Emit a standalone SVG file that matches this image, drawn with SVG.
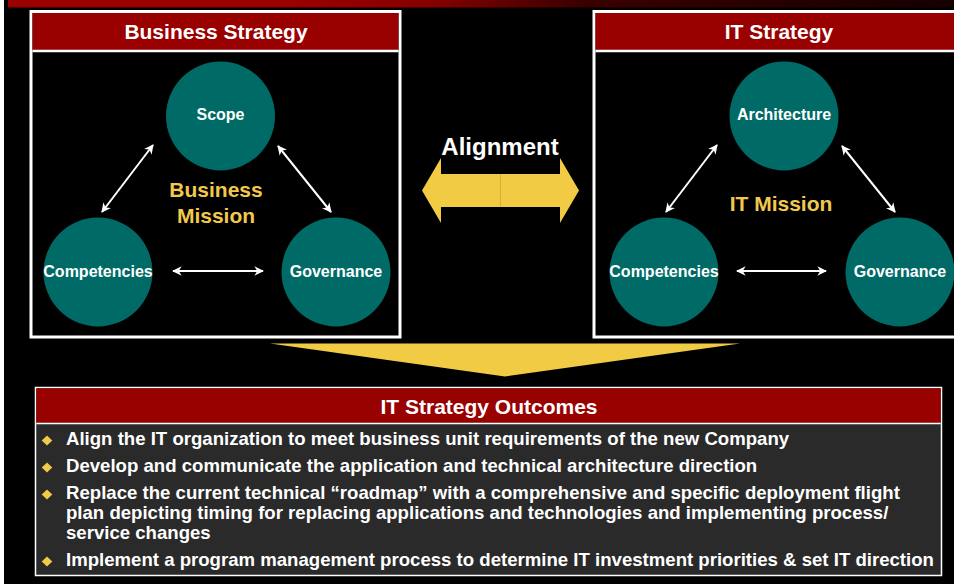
<svg xmlns="http://www.w3.org/2000/svg" width="954" height="588" viewBox="0 0 954 588">
  <defs>
    <linearGradient id="topband" x1="8" y1="0" x2="954" y2="0" gradientUnits="userSpaceOnUse">
      <stop offset="0" stop-color="#990000"/>
      <stop offset="0.31" stop-color="#990000"/>
      <stop offset="0.44" stop-color="#880000"/>
      <stop offset="0.61" stop-color="#3a0000"/>
      <stop offset="1" stop-color="#150000"/>
    </linearGradient>
    <marker id="ah" viewBox="0 0 10 10" refX="9" refY="5" markerWidth="4.8" markerHeight="4.8" orient="auto-start-reverse" markerUnits="strokeWidth">
      <path d="M0,0 L10,5 L0,10 L3,5 Z" fill="#ffffff"/>
    </marker>
    <style>
      .bold { font-family: "Liberation Sans", Arial, sans-serif; font-weight: bold; }
      .hdr { font-size: 21px; fill: #ffffff; text-anchor: middle; }
      .circ { fill: #006a66; }
      .clbl { font-size: 16px; fill: #ffffff; text-anchor: middle; }
      .mission { font-size: 21px; fill: #f2c94c; text-anchor: middle; }
      .conn { stroke: #ffffff; stroke-width: 2; fill: none; marker-start: url(#ah); marker-end: url(#ah); }
      .bul { font-size: 18.6px; fill: #ffffff; }
      .dia { fill: #f2c94c; }
      .yel { fill: #f2cb45; }
    </style>
  </defs>

  <!-- background -->
  <rect x="0" y="0" width="954" height="588" fill="#ffffff"/>
  <rect x="4" y="0" width="950" height="584" fill="#000000"/>
  <rect x="8" y="0" width="946" height="7.5" fill="url(#topband)"/>

  <!-- Business Strategy panel -->
  <g id="business-strategy">
    <rect x="31" y="11.5" width="369" height="325.5" fill="#000000" stroke="#ffffff" stroke-width="3"/>
    <rect x="32.5" y="13" width="366" height="37" fill="#990000"/>
    <line x1="32.5" y1="51" x2="398.5" y2="51" stroke="#ffffff" stroke-width="2.5"/>
    <text class="bold hdr" x="216" y="39.3">Business Strategy</text>
    <text class="bold mission" x="216" y="197.3">Business</text>
    <text class="bold mission" x="216" y="223.3">Mission</text>
  </g>
  <g id="bs-scope">
    <circle class="circ" cx="220.5" cy="116" r="54.5"/>
    <text class="bold clbl" x="220.5" y="120">Scope</text>
  </g>
  <g id="bs-competencies">
    <circle class="circ" cx="98" cy="272" r="54.5"/>
    <text class="bold clbl" x="98" y="277">Competencies</text>
  </g>
  <g id="bs-governance">
    <circle class="circ" cx="336" cy="272" r="54.5"/>
    <text class="bold clbl" x="336" y="277">Governance</text>
  </g>

  <!-- IT Strategy panel -->
  <g id="it-strategy">
    <rect x="594" y="11.5" width="372" height="325.5" fill="#000000" stroke="#ffffff" stroke-width="3"/>
    <rect x="595.5" y="13" width="369" height="37" fill="#990000"/>
    <line x1="595.5" y1="51" x2="966" y2="51" stroke="#ffffff" stroke-width="2.5"/>
    <text class="bold hdr" x="779" y="39.3">IT Strategy</text>
    <text class="bold mission" x="781" y="210.5">IT Mission</text>
  </g>
  <g id="it-architecture">
    <circle class="circ" cx="784" cy="116" r="54.5"/>
    <text class="bold clbl" x="784" y="120">Architecture</text>
  </g>
  <g id="it-competencies">
    <circle class="circ" cx="664" cy="272" r="54.5"/>
    <text class="bold clbl" x="664" y="277">Competencies</text>
  </g>
  <g id="it-governance">
    <circle class="circ" cx="900" cy="272" r="54.5"/>
    <text class="bold clbl" x="900" y="277">Governance</text>
  </g>

  <!-- Alignment -->
  <g id="alignment">
    <text class="bold" x="500" y="154.5" font-size="24" fill="#ffffff" text-anchor="middle">Alignment</text>
    <polygon class="yel" points="422,190.5 441,158 441,174 500.5,174 500.5,207 441,207 441,223"/>
    <polygon class="yel" points="579,190.5 560,158 560,174 500.5,174 500.5,207 560,207 560,223"/>
    <line x1="500.5" y1="174" x2="500.5" y2="207" stroke="#d9ac3a" stroke-width="1"/>
  </g>

  <!-- Chevron down -->
  <g id="outcome-chevron">
    <polygon class="yel" points="270,343.5 740,343.5 505,376.5"/>
  </g>

  <!-- connectors -->
  <g id="connectors">
    <line class="conn" x1="153" y1="145" x2="102" y2="212"/>
    <line class="conn" x1="278" y1="146" x2="331" y2="212"/>
    <line class="conn" x1="173" y1="271" x2="263" y2="271"/>
    <line class="conn" x1="717" y1="145" x2="666" y2="212"/>
    <line class="conn" x1="842" y1="146" x2="895" y2="212"/>
    <line class="conn" x1="737" y1="271" x2="826" y2="271"/>
  </g>

  <!-- Outcomes -->
  <g id="it-strategy-outcomes">
    <rect x="35.5" y="387.5" width="906" height="188" fill="#2a2a2a" stroke="#ffffff" stroke-width="1.5"/>
    <rect x="36.3" y="388.3" width="904.4" height="34.5" fill="#990000"/>
    <line x1="36.3" y1="423.5" x2="940.7" y2="423.5" stroke="#ffffff" stroke-width="1.5"/>
    <text class="bold hdr" x="489" y="413.5">IT Strategy Outcomes</text>
    <polygon class="dia" points="47,435.5 52.3,440.5 47,445.5 41.7,440.5"/>
    <text class="bold bul" x="66" y="445">Align the IT organization to meet business unit requirements of the new Company</text>
    <polygon class="dia" points="47,462.5 52.3,467.5 47,472.5 41.7,467.5"/>
    <text class="bold bul" x="66" y="472.3">Develop and communicate the application and technical architecture direction</text>
    <polygon class="dia" points="47,489.5 52.3,494.5 47,499.5 41.7,494.5"/>
    <text class="bold bul" x="66" y="499.3">Replace the current technical “roadmap” with a comprehensive and specific deployment flight</text>
    <text class="bold bul" x="66" y="519">plan depicting timing for replacing applications and technologies and implementing process/</text>
    <text class="bold bul" x="66" y="538.5">service changes</text>
    <polygon class="dia" points="47,556.5 52.3,561.5 47,566.5 41.7,561.5"/>
    <text class="bold bul" x="66" y="565.7">Implement a program management process to determine IT investment priorities &amp; set IT direction</text>
  </g>
</svg>
